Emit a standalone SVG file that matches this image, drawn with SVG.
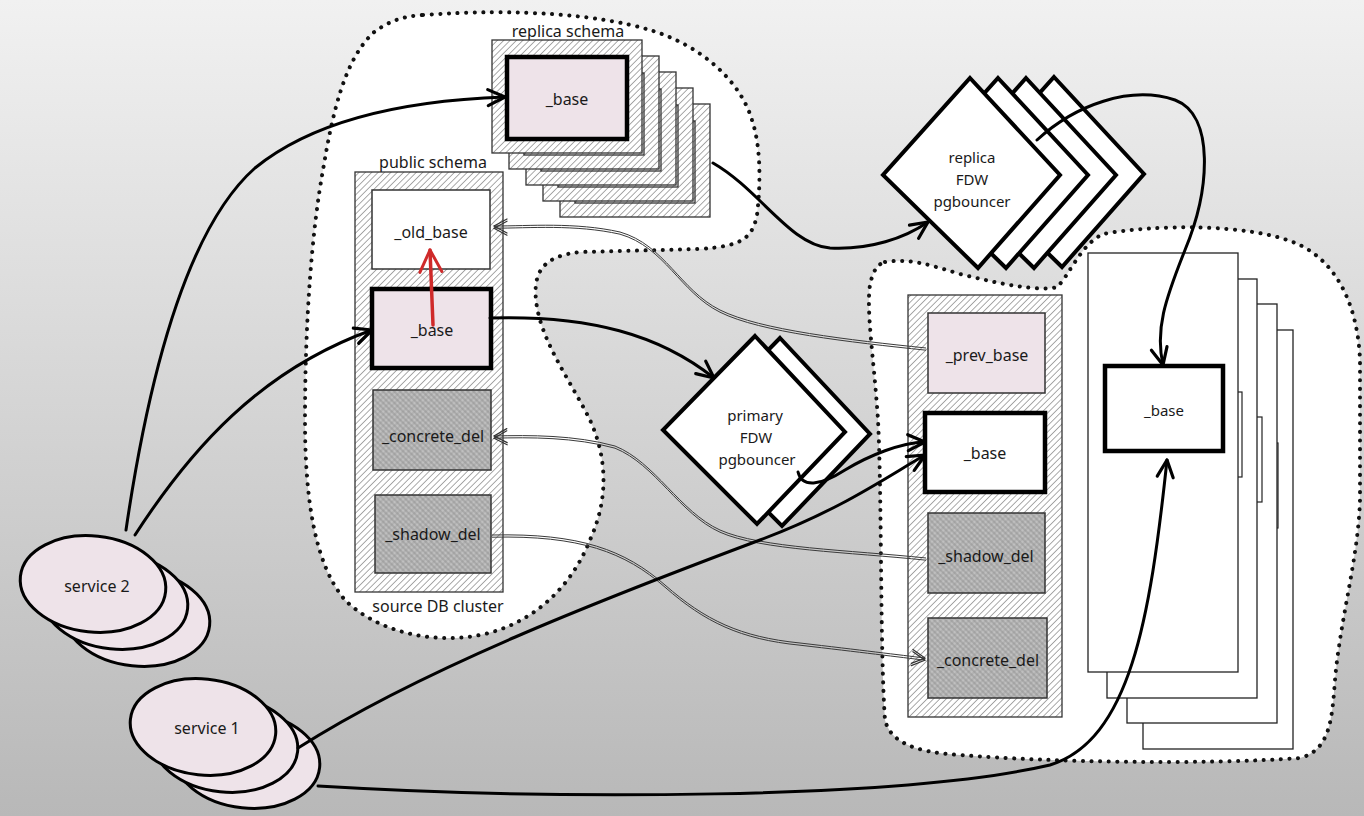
<svg xmlns="http://www.w3.org/2000/svg" xmlns:xlink="http://www.w3.org/1999/xlink" width="1364" height="816" viewBox="0 0 1364 816">
<defs>
<linearGradient id="bg" x1="0" y1="0" x2="0" y2="1">
<stop offset="0" stop-color="#f1f1f1"/>
<stop offset="1" stop-color="#b8b8b8"/>
</linearGradient>
<pattern id="hatch" width="4.5" height="4.5" patternUnits="userSpaceOnUse" patternTransform="rotate(45)">
<rect width="4.5" height="4.5" fill="#ffffff"/>
<line x1="2.25" y1="0" x2="2.25" y2="4.5" stroke="#959595" stroke-width="0.8"/>
</pattern>
<pattern id="xhatch" width="4" height="4" patternUnits="userSpaceOnUse" patternTransform="rotate(45)">
<rect width="4" height="4" fill="#b2b2b2"/>
<line x1="2" y1="0" x2="2" y2="4" stroke="#d4d4d4" stroke-width="0.8"/>
<line x1="0" y1="2" x2="4" y2="2" stroke="#8a8a8a" stroke-width="0.8"/>
</pattern>
<marker id="ah" viewBox="-20 -11 22 22" refX="0" refY="0" markerWidth="22" markerHeight="22" markerUnits="userSpaceOnUse" orient="auto" overflow="visible">
<path d="M-17,-8 L0,0 L-17,8" fill="none" stroke="#000" stroke-width="3.2" stroke-linecap="round" stroke-linejoin="round"/>
</marker>
<marker id="aht" viewBox="-14 -8 16 16" refX="0" refY="0" markerWidth="16" markerHeight="16" markerUnits="userSpaceOnUse" orient="auto" overflow="visible">
<path d="M-13,-7 L0,0 L-13,7" fill="none" stroke="#333" stroke-width="1.2" stroke-linecap="round"/>
</marker>
<marker id="ahr" viewBox="-26 -14 28 28" refX="0" refY="0" markerWidth="28" markerHeight="28" markerUnits="userSpaceOnUse" orient="auto" overflow="visible">
<path d="M-22,-11 L0,0 L-22,11" fill="none" stroke="#cf2a2a" stroke-width="3" stroke-linecap="round" stroke-linejoin="round"/>
</marker>
<g id="replayer">
<rect x="492" y="40" width="150" height="113" fill="url(#hatch)" stroke="#333" stroke-width="1.3"/>
<rect x="507" y="57" width="120" height="82" fill="url(#hatch)" stroke="#333" stroke-width="1.3"/>
</g>
<g id="stacklayer">
<rect x="1088" y="253" width="150" height="419" fill="#ffffff" stroke="#222" stroke-width="1.3"/>
<rect x="1105" y="366" width="118" height="85" fill="#ffffff" stroke="#222" stroke-width="1.2"/>
</g>
<polygon id="rdia" points="970,78 1060,175 978,268 883,175"/>
<polygon id="pdia" points="755,336 845,432 757,524 663,430"/>
<ellipse id="svcell" cx="0" cy="0" rx="73" ry="48"/>
</defs>
<style>
.lbl{font-family:"Noto Sans","DejaVu Sans",sans-serif;font-size:16px;fill:#1a1a1a;text-anchor:middle;dominant-baseline:central}
.sm{font-size:15px}
.blob{fill:#ffffff;stroke:#111;stroke-width:4;stroke-dasharray:0.1 8.5;stroke-linecap:round}
.frame{fill:url(#hatch);stroke:#333;stroke-width:1.3}
.pinkthick{fill:#eee3e9;stroke:#000;stroke-width:4.5}
.whitethin{fill:#ffffff;stroke:#333;stroke-width:1.5}
.whitethick{fill:#ffffff;stroke:#000;stroke-width:4.5}
.pinkthin{fill:#eee3e9;stroke:#333;stroke-width:1.5}
.del{fill:url(#xhatch);stroke:#333;stroke-width:1.5}
.dia{fill:#ffffff;stroke:#000;stroke-width:4;stroke-linejoin:miter}
.svc{fill:#eee3e9;stroke:#000;stroke-width:3}
.conn{fill:none;stroke:#000;stroke-width:3;stroke-linecap:round}
.thin{fill:none;stroke:#3a3a3a;stroke-width:1}
.red{fill:none;stroke:#cf2a2a;stroke-width:3.5;stroke-linecap:round}
</style>
<rect x="0" y="0" width="1364" height="816" fill="url(#bg)"/>

<g id="source-cluster">
<path class="blob" d="M423,15 C520,8 600,15 650,30 C700,45 740,80 752,120 C762,150 760,190 757,215 C752,240 740,246 700,249 L580,252 C545,256 533,270 536,300 C540,340 570,380 590,420 C608,460 608,500 590,540 C570,590 530,625 480,635 C430,645 375,630 345,600 C315,565 305,500 305,420 C305,320 312,230 323,170 C333,110 345,60 373,33 C390,20 405,16 423,15 Z"/>
<text class="lbl" x="438" y="606">source DB cluster</text>
</g>

<g id="target-cluster">
<path class="blob" d="M885,262 C910,258 930,265 960,274 C1000,284 1040,292 1057,287 C1070,275 1080,245 1103,234 C1150,225 1250,222 1300,245 C1340,265 1358,310 1360,360 L1360,500 C1358,560 1340,620 1335,680 C1332,720 1330,750 1300,758 C1200,765 1050,762 960,755 C910,752 890,740 885,720 C880,650 882,500 878,420 C874,360 866,310 870,285 C873,270 878,264 885,262 Z"/>
</g>

<g id="replica-schema">
<text class="lbl" x="568" y="31">replica schema</text>
<use xlink:href="#replayer" transform="translate(68,64)"/>
<use xlink:href="#replayer" transform="translate(51,48)"/>
<use xlink:href="#replayer" transform="translate(34,32)"/>
<use xlink:href="#replayer" transform="translate(17,16)"/>
<rect x="492" y="40" width="150" height="113" class="frame"/>
<rect x="507" y="57" width="120" height="82" class="pinkthick"/>
<text class="lbl" x="567" y="99">_base</text>
</g>

<g id="public-schema">
<text class="lbl" x="433" y="162">public schema</text>
<rect x="355" y="172" width="148" height="420" class="frame"/>
</g>
<g id="public-old-base">
<rect x="372" y="190" width="118" height="79" class="whitethin"/>
<text class="lbl" x="431" y="232">_old_base</text>
</g>
<g id="public-base">
<rect x="372" y="289" width="119" height="79" class="pinkthick"/>
<text class="lbl" x="432" y="330">_base</text>
</g>
<g id="public-concrete-del">
<rect x="373" y="390" width="118" height="80" class="del"/>
<text class="lbl" x="433" y="436">_concrete_del</text>
</g>
<g id="public-shadow-del">
<rect x="375" y="495" width="116" height="78" class="del"/>
<text class="lbl" x="433" y="534">_shadow_del</text>
</g>

<g id="replica-fdw">
<use xlink:href="#rdia" class="dia" transform="translate(84,-1)"/>
<use xlink:href="#rdia" class="dia" transform="translate(56,0)"/>
<use xlink:href="#rdia" class="dia" transform="translate(28,0)"/>
<use xlink:href="#rdia" class="dia"/>
<text class="lbl sm" x="972" y="157">replica</text>
<text class="lbl sm" x="972" y="179">FDW</text>
<text class="lbl sm" x="972" y="201">pgbouncer</text>
</g>

<g id="primary-fdw">
<use xlink:href="#pdia" class="dia" transform="translate(25,2)"/>
<use xlink:href="#pdia" class="dia"/>
<text class="lbl sm" x="755" y="415">primary</text>
<text class="lbl sm" x="756" y="437">FDW</text>
<text class="lbl sm" x="757" y="459">pgbouncer</text>
</g>

<g id="shadow-schema">
<rect x="908" y="295" width="154" height="422" class="frame"/>
</g>
<g id="target-prev-base">
<rect x="928" y="313" width="117" height="80" class="pinkthin"/>
<text class="lbl" x="987" y="355">_prev_base</text>
</g>
<g id="target-base">
<rect x="925" y="413" width="120" height="79" class="whitethick"/>
<text class="lbl" x="985" y="453">_base</text>
</g>
<g id="target-shadow-del">
<rect x="928" y="513" width="117" height="80" class="del"/>
<text class="lbl" x="986" y="556">_shadow_del</text>
</g>
<g id="target-concrete-del">
<rect x="928" y="618" width="119" height="80" class="del"/>
<text class="lbl" x="988" y="660">_concrete_del</text>
</g>

<g id="replica-stack">
<use xlink:href="#stacklayer" transform="translate(55,77)"/>
<use xlink:href="#stacklayer" transform="translate(39,51)"/>
<use xlink:href="#stacklayer" transform="translate(19,26)"/>
<rect x="1088" y="253" width="150" height="419" fill="#ffffff" stroke="#222" stroke-width="1.3"/>
<rect x="1105" y="366" width="118" height="85" class="whitethick"/>
<text class="lbl sm" x="1164" y="410">_base</text>
</g>

<g id="service-2">
<use xlink:href="#svcell" class="svc" transform="translate(137,618) rotate(6)"/>
<use xlink:href="#svcell" class="svc" transform="translate(115,601) rotate(6)"/>
<use xlink:href="#svcell" class="svc" transform="translate(93,584) rotate(6)"/>
<text class="lbl" x="97" y="586">service 2</text>
</g>
<g id="service-1">
<use xlink:href="#svcell" class="svc" transform="translate(247,760) rotate(6)"/>
<use xlink:href="#svcell" class="svc" transform="translate(225,744) rotate(6)"/>
<use xlink:href="#svcell" class="svc" transform="translate(203,727) rotate(6)"/>
<text class="lbl" x="207" y="728">service 1</text>
</g>

<g id="connectors">
<path id="t1" class="thin" marker-end="url(#aht)" d="M926,348 C850,340 760,330 720,310 C680,290 665,245 620,232 C575,222 530,226 494,226"/>
<use xlink:href="#t1" transform="translate(0,2.2)"/>
<path id="t2" class="thin" marker-end="url(#aht)" d="M926,558 C850,550 760,548 720,530 C680,512 655,462 615,446 C575,435 530,435 494,436"/>
<use xlink:href="#t2" transform="translate(0,2.2)"/>
<path id="t3" class="thin" marker-end="url(#aht)" d="M492,535 C580,533 625,550 665,585 C705,620 740,637 800,643 C860,650 900,655 925,658"/>
<use xlink:href="#t3" transform="translate(0,2.2)"/>
<path class="conn" marker-end="url(#ah)" d="M126,530 C148,380 185,230 255,168 C320,115 420,100 505,97"/>
<path class="conn" marker-end="url(#ah)" d="M135,535 C190,450 260,370 372,330"/>
<path class="conn" marker-end="url(#ah)" d="M490,318 C590,315 660,335 714,378"/>
<path class="conn" marker-end="url(#ah)" d="M713,163 C760,190 790,245 830,248 C870,250 905,238 928,222"/>
<path class="conn" marker-end="url(#ah)" d="M1037,140 C1075,105 1130,85 1175,100 C1215,115 1210,190 1185,250 C1165,300 1155,330 1163,365"/>
<path class="conn" marker-end="url(#ah)" d="M798,472 C802,488 820,486 845,470 C870,455 900,443 925,442"/>
<path class="conn" marker-end="url(#ah)" d="M298,748 C420,670 600,600 760,540 C840,510 885,478 925,455"/>
<path class="conn" marker-end="url(#ah)" d="M318,786 C550,800 900,800 1050,765 C1130,740 1150,620 1167,460"/>
<path class="red" marker-end="url(#ahr)" d="M433,325 L430,250"/>
</g>
</svg>
